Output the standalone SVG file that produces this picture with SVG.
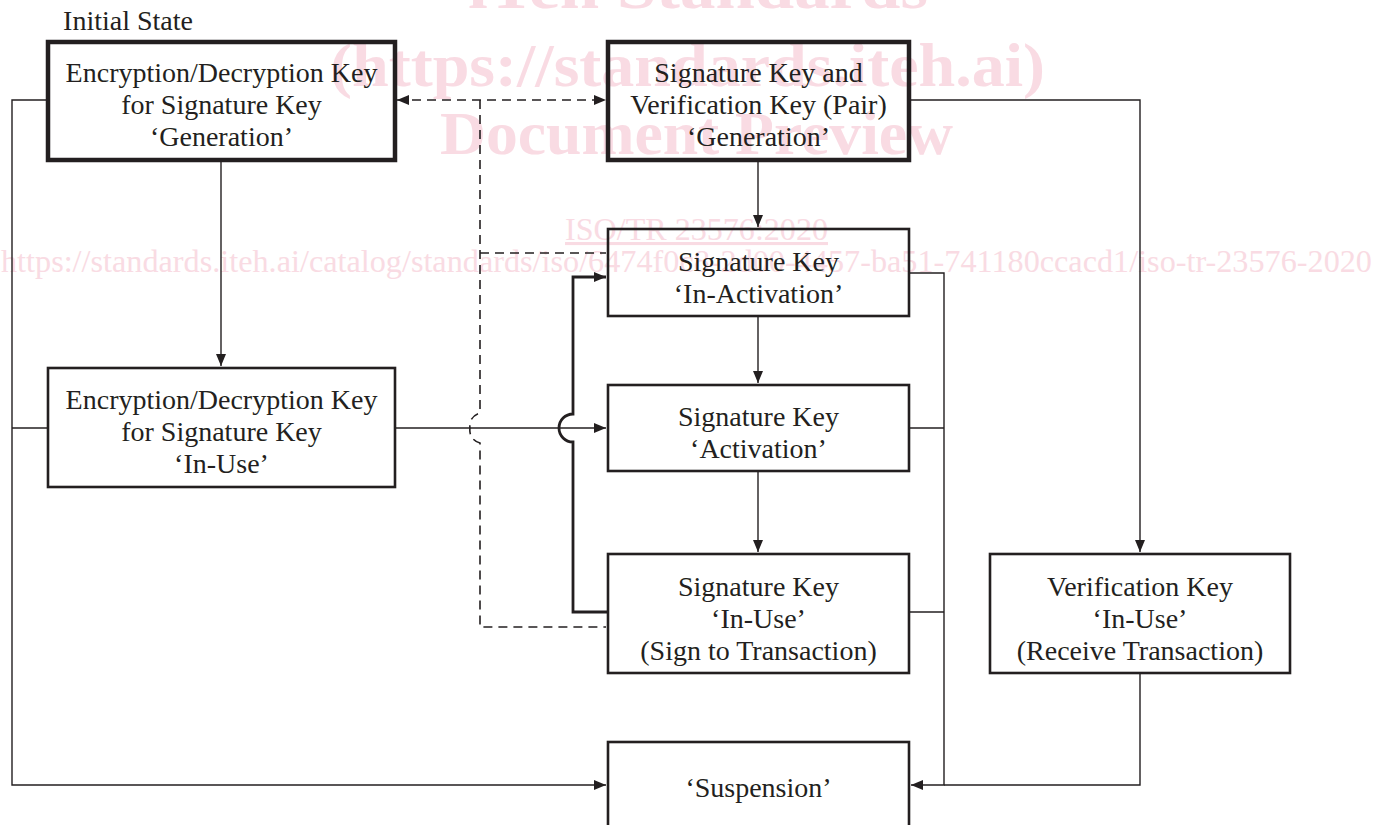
<svg xmlns="http://www.w3.org/2000/svg" width="1391" height="825" viewBox="0 0 1391 825">
<style>
.wm{fill:#f9dbe3;font-family:"Liberation Serif","Times New Roman",serif}
.wb{font-weight:bold;font-size:62px}
.wr{font-size:31px}
.t{fill:#231f20;font-family:"Liberation Serif","Times New Roman",serif;font-size:28px;text-anchor:middle}
.box{fill:none;stroke:#231f20;stroke-width:2.6}
.thick{fill:none;stroke:#231f20;stroke-width:4.5}
.ln{fill:none;stroke:#231f20;stroke-width:1.4}
.dash{fill:none;stroke:#231f20;stroke-width:1.6;stroke-dasharray:9 6}
.fb{fill:none;stroke:#231f20;stroke-width:2.8}
</style>
<defs>
<marker id="ah" viewBox="0 0 12 10" refX="12" refY="5" markerWidth="12" markerHeight="10" markerUnits="userSpaceOnUse" orient="auto-start-reverse">
<path d="M0,0 L12,5 L0,10 Z" fill="#231f20"/>
</marker>
</defs>
<rect width="1391" height="825" fill="#ffffff"/>
<g id="watermark">
<text class="wm wb" x="468" y="8" textLength="460" lengthAdjust="spacingAndGlyphs">iTeh Standards</text>
<text class="wm wb" x="330" y="86" textLength="715" lengthAdjust="spacingAndGlyphs">(https://standards.iteh.ai)</text>
<text class="wm wb" x="440" y="154" textLength="513" lengthAdjust="spacingAndGlyphs">Document Preview</text>
<text class="wm wr" x="565" y="240" textLength="263" lengthAdjust="spacingAndGlyphs" text-decoration="underline">ISO/TR 23576:2020</text>
<text class="wm wr" x="1" y="272" textLength="1371" lengthAdjust="spacingAndGlyphs">https://standards.iteh.ai/catalog/standards/iso/6474f0c8-2d00-4457-ba51-741180ccacd1/iso-tr-23576-2020</text>
</g>
<g id="connectors">
<path class="ln" d="M47,100 H12 V785 H606" marker-end="url(#ah)"/>
<path class="ln" d="M12,428 H48"/>
<path class="ln" d="M221,161 V366" marker-end="url(#ah)"/>
<path class="dash" d="M397,100 H606" marker-start="url(#ah)" marker-end="url(#ah)"/>
<path class="dash" d="M480,100 V413 C472,415 469,422 470,428 C469,434 472,441 480,443 V627 H606"/>
<path class="dash" d="M480,253 H606"/>
<path class="ln" d="M395,428 H606" marker-end="url(#ah)"/>
<path class="fb" d="M608,612 H573 V442 A14,14 0 0 1 573,414 V277 H606" marker-end="url(#ah)"/>
<path class="ln" d="M758,160 V227" marker-end="url(#ah)"/>
<path class="ln" d="M758,316 V383" marker-end="url(#ah)"/>
<path class="ln" d="M758,471 V552" marker-end="url(#ah)"/>
<path class="ln" d="M909,100 H1140 V552" marker-end="url(#ah)"/>
<path class="ln" d="M909,273 H944 V785 H911" marker-end="url(#ah)"/>
<path class="ln" d="M909,428 H944"/>
<path class="ln" d="M909,612 H944"/>
<path class="ln" d="M1140,673 V785 H944"/>
</g>
<g id="initial-state">
<text class="t" x="128" y="30" font-size="24">Initial State</text>
</g>
<g id="enc-gen">
<rect class="thick" x="48" y="42" width="347" height="118"/>
<text class="t" x="221.5" y="82">Encryption/Decryption Key</text>
<text class="t" x="221.5" y="114">for Signature Key</text>
<text class="t" x="221.5" y="146">‘Generation’</text>
</g>
<g id="sig-gen">
<rect class="thick" x="608" y="42" width="301" height="118"/>
<text class="t" x="758.5" y="82">Signature Key and</text>
<text class="t" x="758.5" y="114">Verification Key (Pair)</text>
<text class="t" x="758.5" y="146">‘Generation’</text>
</g>
<g id="enc-inuse">
<rect class="box" x="48" y="368" width="347" height="119"/>
<text class="t" x="221.5" y="409">Encryption/Decryption Key</text>
<text class="t" x="221.5" y="441">for Signature Key</text>
<text class="t" x="221.5" y="473">‘In-Use’</text>
</g>
<g id="sig-inactivation">
<rect class="box" x="608" y="229" width="301" height="87"/>
<text class="t" x="758.5" y="271">Signature Key</text>
<text class="t" x="758.5" y="303">‘In-Activation’</text>
</g>
<g id="sig-activation">
<rect class="box" x="608" y="385" width="301" height="86"/>
<text class="t" x="758.5" y="426">Signature Key</text>
<text class="t" x="758.5" y="458">‘Activation’</text>
</g>
<g id="sig-inuse">
<rect class="box" x="608" y="554" width="301" height="119"/>
<text class="t" x="758.5" y="596">Signature Key</text>
<text class="t" x="758.5" y="628">‘In-Use’</text>
<text class="t" x="758.5" y="660">(Sign to Transaction)</text>
</g>
<g id="ver-inuse">
<rect class="box" x="990" y="554" width="300" height="119"/>
<text class="t" x="1140" y="596">Verification Key</text>
<text class="t" x="1140" y="628">‘In-Use’</text>
<text class="t" x="1140" y="660">(Receive Transaction)</text>
</g>
<g id="suspension">
<rect class="box" x="608" y="742" width="301" height="100"/>
<text class="t" x="758.5" y="797">‘Suspension’</text>
</g>
</svg>
